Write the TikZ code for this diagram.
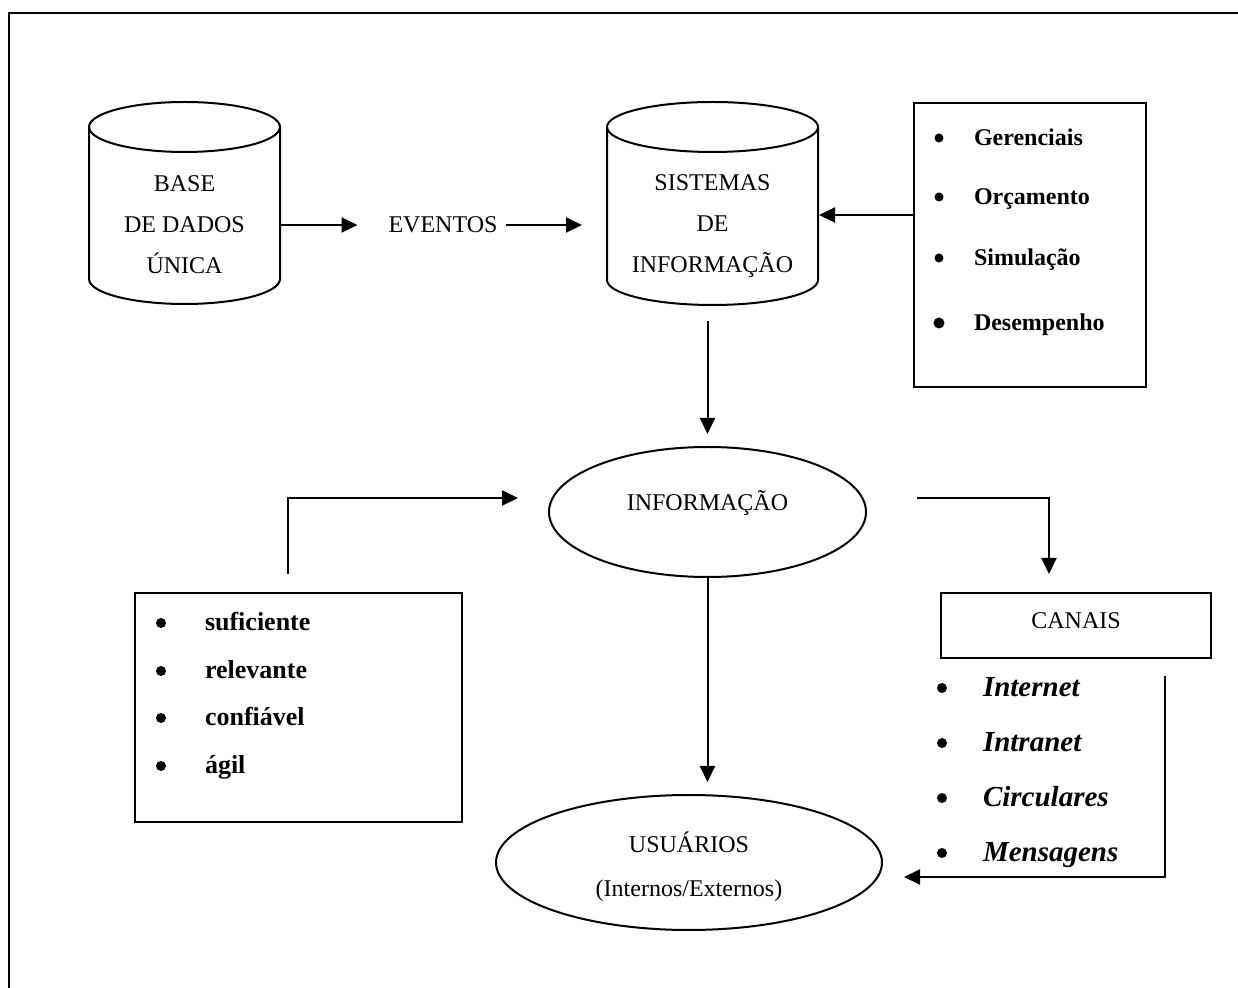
\documentclass[tikz,border=0pt]{standalone}
\usepackage{fontspec}
\setmainfont{Liberation Serif}
\usetikzlibrary{arrows.meta,shapes.geometric,calc}

\begin{document}
\begin{tikzpicture}[x=0.5pt,y=-0.5pt,line width=1pt,
  arr/.style={-{Triangle[length=8pt,width=7.5pt]}},
  lbl/.style={font=\fontsize{12}{20.5}\selectfont,align=center,inner sep=0pt},
  cyltext/.style={lbl,minimum height=#1},
  cyltext/.default=10pt,
  bul/.style={circle,fill,inner sep=0pt,minimum size=#1},
  bul/.default=4.5pt,
  topitem/.style={anchor=mid west,inner sep=0pt,yshift=-1.5pt,font=\fontsize{12}{14}\selectfont\bfseries},
  leftitem/.style={anchor=mid west,inner sep=0pt,yshift=-1.5pt,font=\fontsize{13}{15}\selectfont\bfseries},
  chanitem/.style={anchor=mid west,inner sep=0pt,yshift=-2pt,font=\fontsize{14.5}{17}\selectfont\bfseries\itshape},
  panel/.style={draw,inner sep=0pt}
]
\path[use as bounding box] (0,0) rectangle (1238,988);

% outer frame (runs past the right and bottom edges)
\begin{scope}
  \clip (0,0) rectangle (1238,988);
  \draw[line width=1.3pt] (9,13) rectangle (1270,1020);
\end{scope}

% database cylinder
\draw (89,127) -- (89,279) arc[start angle=180,end angle=360,x radius=47.75pt,y radius=12.5pt] -- (280,127);
\draw (184.5,127) ellipse[x radius=47.75pt,y radius=12.5pt];
\node[lbl,minimum width=95.5pt] (db) at (184.5,225) {BASE\\DE DADOS\\ÚNICA};

% events
\node[lbl] (evt) at (443,225) {EVENTOS};

% information systems cylinder
\draw (607,127) -- (607,280) arc[start angle=180,end angle=360,x radius=52.75pt,y radius=12.5pt] -- (818,127);
\draw (712.5,127) ellipse[x radius=52.75pt,y radius=12.5pt];
\node[cyltext=94pt,minimum width=105.5pt] (si) at (712.5,226) {SISTEMAS\\DE\\INFORMAÇÃO};

% management systems list
\node[panel,minimum width=116pt,minimum height=142pt] (rb) at (1030,245) {};
\node[bul] (rb1) at (939,138) {};
\node[topitem] (rb1t) at (973,138) {Gerenciais};
\node[bul] (rb2) at (939,197) {};
\node[topitem] (rb2t) at (973,197) {Orçamento};
\node[bul] (rb3) at (939,258) {};
\node[topitem] (rb3t) at (973,258) {Simulação};
\node[bul=5.5pt] (rb4) at (939,323) {};
\node[topitem] (rb4t) at (973,323) {Desempenho};

% information
\node[draw,ellipse,minimum width=158.5pt,minimum height=65pt,inner sep=0pt] (info) at (707.5,512) {};
\node[lbl] (infot) at (707.5,503) {INFORMAÇÃO};

% quality attributes
\node[panel,minimum width=163.5pt,minimum height=114.5pt] (lb) at (298.5,707.5) {};
\node[bul=5pt] (lb1) at (161,623) {};
\node[leftitem] (lb1t) at (204,623) {suficiente};
\node[bul=5pt] (lb2) at (161,671) {};
\node[leftitem] (lb2t) at (204,671) {relevante};
\node[bul=5pt] (lb3) at (161,718) {};
\node[leftitem] (lb3t) at (204,718) {confiável};
\node[bul=5pt] (lb4) at (161,766) {};
\node[leftitem] (lb4t) at (204,766) {ágil};

% channels
\node[panel,minimum width=135pt,minimum height=32.5pt] (cb) at (1076,625.5) {};
\node[lbl] (cbt) at (1076,621) {CANAIS};
\node[inner sep=0pt,minimum width=117pt,minimum height=99.5pt] (cl) at (1047,776.5) {};
\node[bul=5pt] (cl1) at (942,688) {};
\node[chanitem] (cl1t) at (982,688) {Internet};
\node[bul=5pt] (cl2) at (942,743) {};
\node[chanitem] (cl2t) at (982,743) {Intranet};
\node[bul=5pt] (cl3) at (942,798) {};
\node[chanitem] (cl3t) at (982,798) {Circulares};
\node[bul=5pt] (cl4) at (942,853) {};
\node[chanitem] (cl4t) at (982,853) {Mensagens};

% users
\node[draw,ellipse,minimum width=193pt,minimum height=67.5pt,inner sep=0pt] (us) at (689,862.5) {};
\node[font=\fontsize{12}{22}\selectfont,align=center,inner sep=0pt] (ust) at (689,867) {USUÁRIOS\\(Internos/Externos)};

% connectors
\draw[arr] (db.east |- evt.west) -- ($(evt.west)+(-30,0)$);
\draw[arr] ($(evt.east)+(8,0)$) -- ($(si.west |- evt.east)+(-24,0)$);
\draw[arr] ($(rb.west)+(0,-30)$) -- ($(si.east)+(0,-11)$);
\draw[arr] (si.south -| info.north) -- ($(info.north)+(0,-12)$);
\draw[arr] ($(lb.north)+(-10.5,-18)$) |- ($(info.west)+(-30,-14)$);
\draw[arr] ($(info.east)+(50,-14)$) -| ($(cb.north)+(-27,-18)$);
\draw[arr] (info.south) -- ($(us.north -| info.south)+(0,-12)$);
\draw[arr] (cl.north east) -- (cl.south east) -- ($(us.east |- cl.south)+(21,0)$);
\end{tikzpicture}
\end{document}
